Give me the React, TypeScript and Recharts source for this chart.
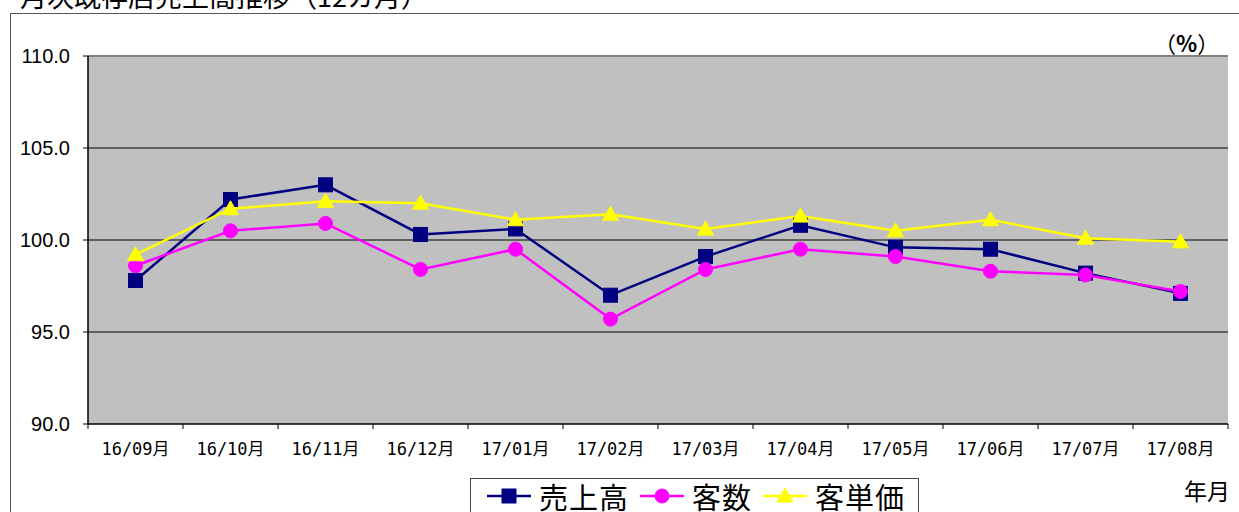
import {
  LineChart,
  Line,
  XAxis,
  YAxis,
  Legend,
  CartesianGrid,
  ReferenceLine,
} from "recharts";
import type { CSSProperties } from "react";

const months = [
  "16/09月", "16/10月", "16/11月", "16/12月", "17/01月", "17/02月",
  "17/03月", "17/04月", "17/05月", "17/06月", "17/07月", "17/08月",
];
const sales = [97.8, 102.2, 103.0, 100.3, 100.6, 97.0, 99.1, 100.8, 99.6, 99.5, 98.2, 97.1];
const customers = [98.6, 100.5, 100.9, 98.4, 99.5, 95.7, 98.4, 99.5, 99.1, 98.3, 98.1, 97.2];
const unitPrice = [99.2, 101.7, 102.1, 102.0, 101.1, 101.4, 100.6, 101.3, 100.5, 101.1, 100.1, 99.9];
const yTicks = [90, 95, 100, 105, 110];
const seriesOrder = ["sales", "customers", "unitPrice"];

const data = months.map((m, i) => ({
  month: m,
  sales: sales[i],
  customers: customers[i],
  unitPrice: unitPrice[i],
}));

const W = 1239;
const H = 512;
const PLOT_LEFT = 88;
const PLOT_RIGHT = 11;
const STEP = (W - PLOT_LEFT - PLOT_RIGHT) / months.length;

const NAVY = "#000080";
const MAGENTA = "#FF00FF";
const YELLOW = "#FFFF00";

function Square({ cx, cy, color, s = 7 }: any) {
  return <rect x={cx - s} y={cy - s} width={s * 2} height={s * 2} fill={color} stroke={color} />;
}
function Circle({ cx, cy, color, r = 7 }: any) {
  return <circle cx={cx} cy={cy} r={r} fill={color} stroke={color} />;
}
function Triangle({ cx, cy, color, s = 8 }: any) {
  return (
    <polygon
      points={`${cx},${cy - s} ${cx + s},${cy + s * 0.75} ${cx - s},${cy + s * 0.75}`}
      fill={color}
      stroke={color}
    />
  );
}

const markers: Record<string, (p: any) => any> = {
  sales: (p) => <Square key={p.key} cx={p.cx} cy={p.cy} color={NAVY} />,
  customers: (p) => <Circle key={p.key} cx={p.cx} cy={p.cy} color={MAGENTA} />,
  unitPrice: (p) => <Triangle key={p.key} cx={p.cx} cy={p.cy} color={YELLOW} />,
};

function MonthTick(props: any) {
  const { x, y, payload, index } = props;
  const half = STEP / 2;
  return (
    <g>
      <line x1={x - half} y1={y} x2={x - half} y2={y + 5} stroke="#000" />
      {index === months.length - 1 && (
        <line x1={x + half} y1={y} x2={x + half} y2={y + 5} stroke="#000" />
      )}
      <text
        x={x}
        y={y + 25}
        textAnchor="middle"
        dominantBaseline="central"
        fontFamily="'DejaVu Sans Mono', 'Noto Sans CJK JP'"
        fontSize={17}
        fill="#000"
      >
        {payload.value}
      </text>
    </g>
  );
}

function LegendBox({ payload }: any) {
  const items = [...(payload || [])].sort(
    (a: any, b: any) => seriesOrder.indexOf(a.dataKey) - seriesOrder.indexOf(b.dataKey)
  );
  return (
    <div style={legendBox}>
      {items.map((e: any) => (
        <div key={e.dataKey} style={{ display: "flex", alignItems: "center", marginRight: 10 }}>
          <svg width={46} height={24}>
            <line x1={1} y1={12} x2={45} y2={12} stroke={e.color} strokeWidth={2.5} />
            {markers[e.dataKey]({ cx: 23, cy: 12 })}
          </svg>
          <span style={{ marginLeft: 7, letterSpacing: 1 }}>{e.value}</span>
        </div>
      ))}
    </div>
  );
}

export default function App() {
  return (
    <div style={page}>
      <div style={frame} />
      <div style={title}>月次既存店売上高推移（12カ月）</div>
      <div style={percent}>（<b>%</b>）</div>
      <div style={yearMonth}>年月</div>
      <LineChart
        width={W}
        height={H}
        data={data}
        margin={{ top: 56, right: PLOT_RIGHT, bottom: 0, left: 0 }}
      >
        <CartesianGrid fill="#C0C0C0" fillOpacity={1} horizontal={false} vertical={false} />
        {yTicks.slice(1, -1).map((v) => (
          <ReferenceLine key={v} y={v} stroke="#000" strokeWidth={1} />
        ))}
        <ReferenceLine y={110} stroke="#808080" strokeWidth={2} />
        <XAxis
          dataKey="month"
          height={88}
          interval={0}
          padding={{ left: STEP / 2, right: STEP / 2 }}
          tickLine={false}
          tickSize={0}
          tickMargin={0}
          axisLine={{ stroke: "#000", strokeWidth: 1.5 }}
          tick={<MonthTick />}
        />
        <YAxis
          width={PLOT_LEFT}
          domain={[90, 110]}
          ticks={yTicks}
          tickFormatter={(v: number) => v.toFixed(1)}
          axisLine={{ stroke: "#000", strokeWidth: 1.5 }}
          tickLine={{ stroke: "#000" }}
          tickSize={5}
          tickMargin={13}
          tick={{ fontFamily: "'Liberation Sans', Arial", fontSize: 20, fill: "#000" }}
        />
        <YAxis
          yAxisId="edge"
          orientation="right"
          width={0}
          domain={[90, 110]}
          tick={false}
          tickLine={false}
          axisLine={{ stroke: "#808080", strokeWidth: 2 }}
        />
        <Legend
          layout="horizontal"
          verticalAlign="middle"
          align="center"
          content={<LegendBox />}
          wrapperStyle={{ left: 470, top: 478, width: 450, height: 34 }}
        />
        <Line
          dataKey="sales"
          name="売上高"
          stroke={NAVY}
          strokeWidth={2.5}
          dot={markers.sales}
          isAnimationActive={false}
        />
        <Line
          dataKey="customers"
          name="客数"
          stroke={MAGENTA}
          strokeWidth={2.5}
          dot={markers.customers}
          isAnimationActive={false}
        />
        <Line
          dataKey="unitPrice"
          name="客単価"
          stroke={YELLOW}
          strokeWidth={2.5}
          dot={markers.unitPrice}
          isAnimationActive={false}
        />
      </LineChart>
    </div>
  );
}

const page: CSSProperties = {
  position: "absolute",
  left: 0,
  top: 0,
  width: W,
  height: H,
  overflow: "hidden",
  background: "#fff",
};

const frame: CSSProperties = {
  position: "absolute",
  left: 10,
  top: 13,
  width: 1400,
  height: 700,
  borderLeft: "1.5px solid #555",
  borderTop: "1.5px solid #555",
};

const title: CSSProperties = {
  position: "absolute",
  left: 20,
  top: -18,
  fontFamily: "'Noto Sans CJK JP'",
  fontSize: 27,
  lineHeight: "27px",
  whiteSpace: "nowrap",
  color: "#000",
};

const percent: CSSProperties = {
  position: "absolute",
  left: 1154,
  top: 29,
  fontFamily: "'Noto Sans CJK JP'",
  fontSize: 22,
  lineHeight: "26px",
  color: "#000",
};

const yearMonth: CSSProperties = {
  position: "absolute",
  left: 1184,
  top: 477,
  fontFamily: "'Noto Sans CJK JP'",
  fontSize: 23,
  lineHeight: "26px",
  color: "#000",
};

const legendBox: CSSProperties = {
  display: "flex",
  alignItems: "center",
  boxSizing: "border-box",
  height: 40,
  width: 449,
  padding: "0 0 5px 15px",
  border: "1.5px solid #444",
  background: "#fff",
  fontFamily: "'Noto Sans CJK JP'",
  fontSize: 29,
  lineHeight: "28px",
  color: "#000",
};
